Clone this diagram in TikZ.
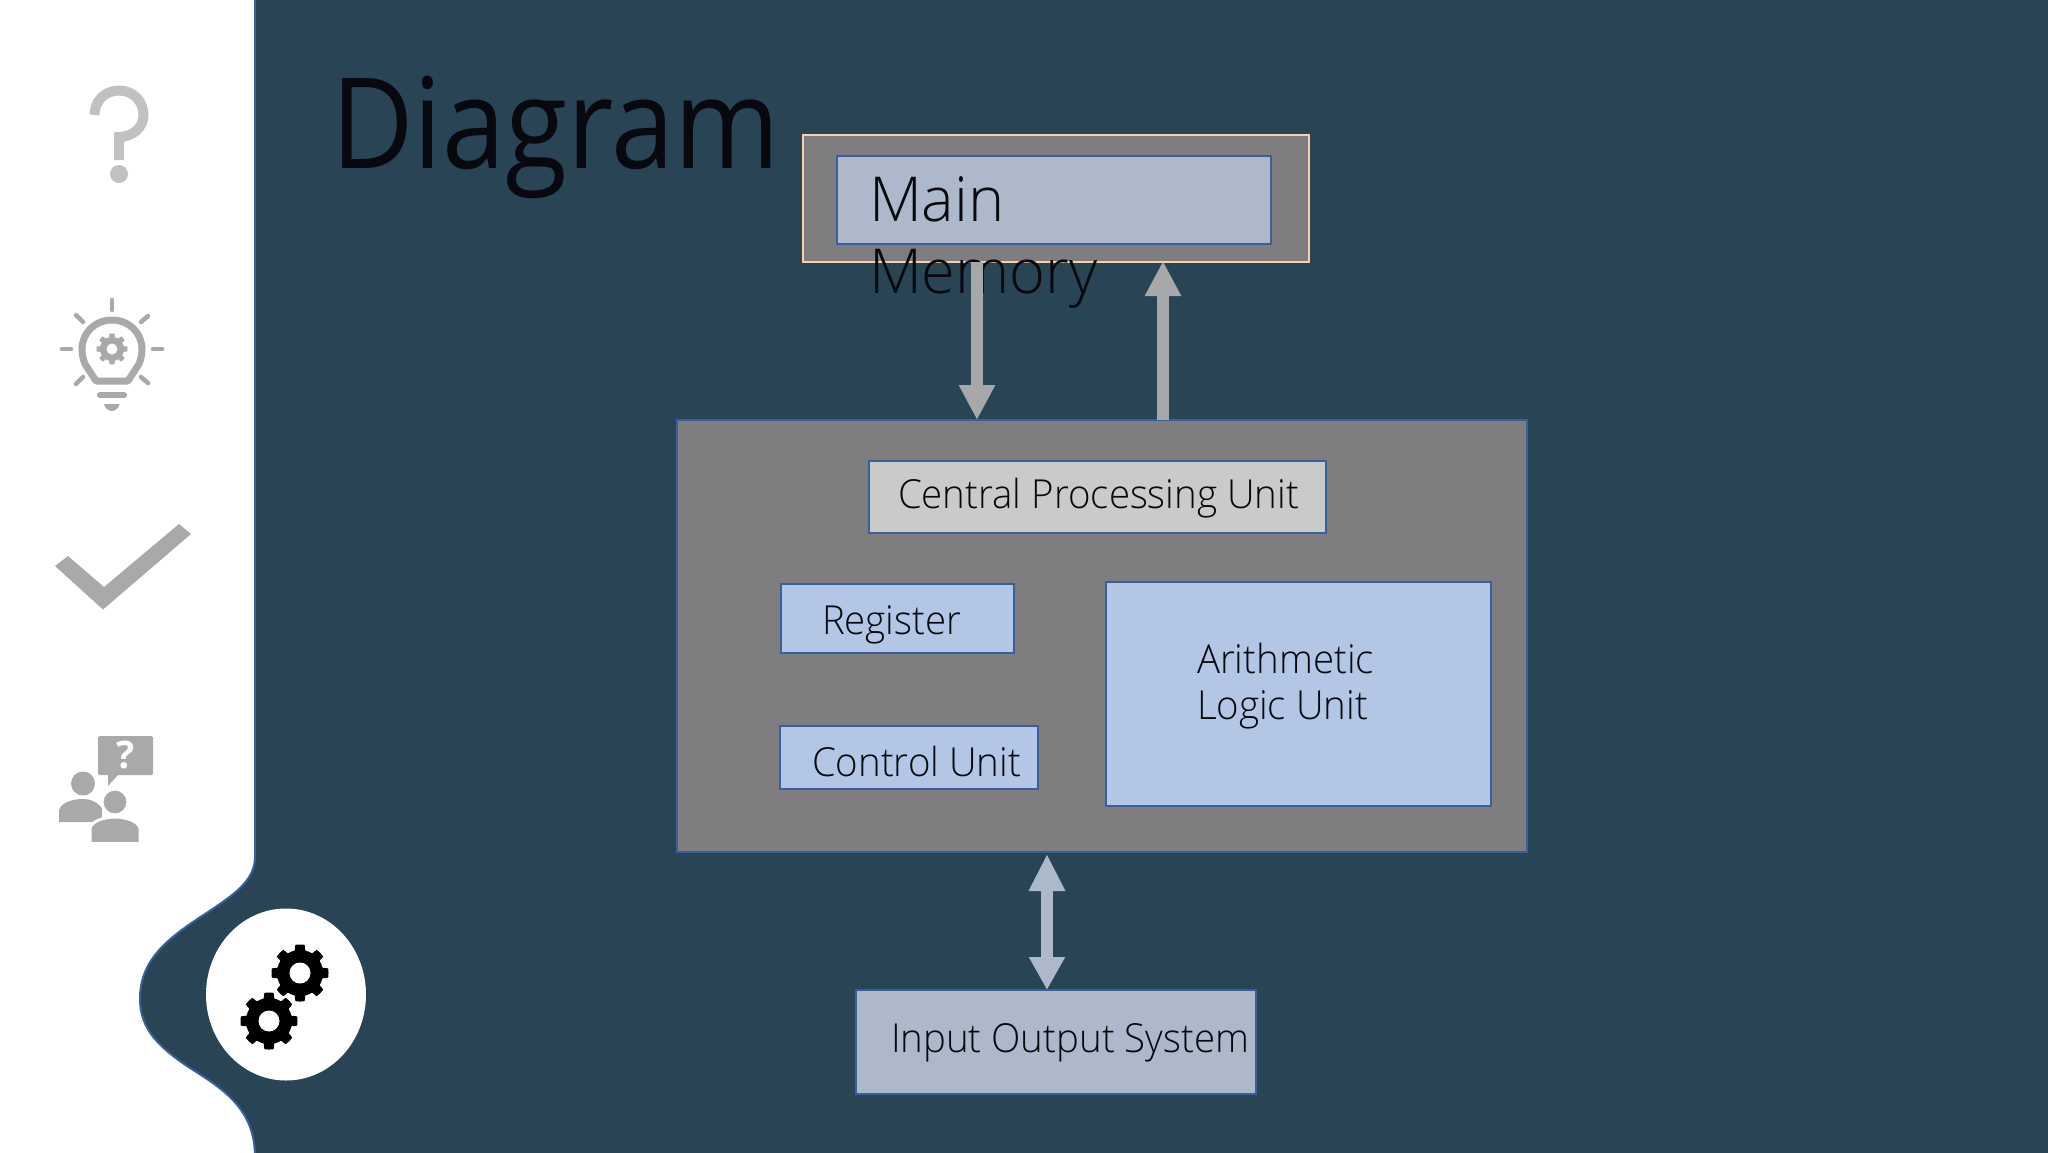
\documentclass[tikz,border=0pt]{standalone}
\usepackage{fontspec}
\setmainfont{Open Sans Light}
\newfontfamily\titlefont[FakeStretch=0.90]{Open Sans}
\newfontfamily\smallface[FakeStretch=0.96]{Open Sans Light}
\newfontfamily\bigface[FakeStretch=0.99]{Open Sans Light}
\newfontfamily\iconface{Open Sans}
\usetikzlibrary{arrows.meta}
\definecolor{bgc}{HTML}{284455}
\definecolor{boxgray}{HTML}{7F7D7F}
\definecolor{edgeblue}{HTML}{3A5F9A}
\definecolor{peach}{HTML}{F6D2A6}
\definecolor{paleblue}{HTML}{B3C6E6}
\definecolor{slateblue}{HTML}{ADB9CB}
\definecolor{lightgray}{HTML}{C9CACA}
\definecolor{icongray}{HTML}{A9A9A9}
\definecolor{qgray}{HTML}{C1C1C1}
\definecolor{arrowgray}{HTML}{A6A8A9}
\definecolor{inktext}{HTML}{08080F}
\tikzset{
  panel/.style={draw=edgeblue,line width=2pt,inner sep=0pt,outer sep=0pt,anchor=north west},
  txt/.style={anchor=base west,inner sep=0pt,outer sep=0pt,text=inktext},
  smalltxt/.style={txt,font=\smallface\fontsize{40}{46}\selectfont},
  bigtxt/.style={txt,font=\bigface\fontsize{62}{71}\selectfont},
  flow/.style={line width=12pt,draw=arrowgray,-{Triangle[width=34pt,length=35pt,color=arrowgray]}},
  ray/.style={line width=4.5pt,draw=icongray,line cap=round},
}
\newcommand{\mygear}[5]{%
  \fill[#5] plot[domain=0:360,samples=241,variable=\t]
    ({#1+(#4+(#3-#4)*max(0,min(1,2.2*cos(8*\t)+0.5)))*cos(\t)},
     {#2+(#4+(#3-#4)*max(0,min(1,2.2*cos(8*\t)+0.5)))*sin(\t)}) -- cycle;
}
\begin{document}
\begin{tikzpicture}[x=1pt,y=-1pt]
\useasboundingbox (0,0) rectangle (2048,1152);
\fill[bgc] (-5,-5) rectangle (2053,1157);
% sidebar
\fill[white,draw=edgeblue,line width=2pt] (-5,-5) -- (255,-5) -- (255,857)
  .. controls (255,885) and (225,900) .. (190,924)
  .. controls (160,945) and (140,965) .. (140,999)
  .. controls (140,1030) and (160,1048) .. (190,1068)
  .. controls (225,1090) and (255,1110) .. (255,1157) -- (-5,1157) -- cycle;
% question mark icon
\draw[qgray,line width=10pt] (94.5,115) .. controls (94.5,101) and (105,90.5) .. (119,90.5)
  .. controls (133,90.5) and (143.5,101) .. (143.5,115)
  .. controls (143.5,128) and (132,137) .. (119,137) -- (119,160);
\fill[qgray] (119,174) circle[radius=9pt];
% bulb icon
\draw[icongray,line width=7pt,line join=round] (96,381) -- (85,364) .. controls (83,359) and (82,354) .. (82,349)
  .. controls (82,333) and (95,320) .. (112,320) .. controls (129,320) and (142,333) .. (142,349)
  .. controls (142,354) and (141,359) .. (139,364) -- (128,381) -- cycle;
\draw[icongray,line width=6.5pt,line cap=round] (100,395) -- (124,395);
\fill[icongray] (104,404) -- (119.5,404) .. controls (119,408) and (115,411) .. (112,411) .. controls (108,411) and (105,408) .. (104,404) -- cycle;
\draw[ray] (112,300) -- (112,310);
\draw[ray] (62,349) -- (71,349);
\draw[ray] (153,349) -- (162,349);
\draw[ray] (76,315) -- (83,322);
\draw[ray] (148,316) -- (141,322);
\draw[ray] (76,384) -- (83,377);
\draw[ray] (148,383) -- (141,377);
\mygear{112}{349}{15.5}{12}{icongray}
\fill[white] (112,349) circle[radius=5.5pt];
% check icon
\fill[icongray] (55,566) -- (68,556) -- (104,587) -- (179,524) -- (191,534) -- (103,609.5) -- cycle;
% people icon
\fill[icongray,rounded corners=1.5pt] (98,736) rectangle (153,775);
\fill[icongray] (108,774) -- (119,774) -- (108,786) -- cycle;
\node[inner sep=0pt,text=white,font=\iconface\bfseries\fontsize{38}{38}\selectfont] (qm) at (126,755) {?};
\fill[icongray] (83,783.5) circle[radius=12pt];
\fill[icongray] (59,822) -- (59,811) .. controls (60,803) and (72,799) .. (83,799) .. controls (90,799) and (96,801) .. (102,808) -- (102,822) -- cycle;
\fill[icongray,draw=white,line width=3pt] (115,802) circle[radius=13pt];
\fill[icongray,draw=white,line width=3pt] (90,845) -- (90,828) .. controls (92,821) and (104,817) .. (115,817) .. controls (126,817) and (138,821) .. (140,828) -- (140,845) -- cycle;
\fill[white] (85,842) rectangle (145,850);
% selected circle with gears
\fill[white] (286,994.5) ellipse[x radius=80pt,y radius=86pt];
\mygear{300}{973}{28.5}{23}{black}
\fill[white] (300,973) circle[radius=10.5pt];
\mygear{269}{1021}{28.5}{23}{black}
\fill[white] (269,1021) circle[radius=10.5pt];
% title
\node[txt,font=\titlefont\fontsize{126}{126}\selectfont] (title) at (331,168) {Diagram};
% boxes
\node[panel,draw=peach,fill=boxgray,minimum width=506pt,minimum height=127pt] (mem) at (802.5,135) {};
\node[panel,fill=slateblue,minimum width=434pt,minimum height=88pt] (memin) at (837,156) {};
\node[bigtxt] (t1) at (869,221) {Main};
\node[bigtxt] (t2) at (869,293) {Memory};
\node[panel,fill=boxgray,minimum width=850pt,minimum height=432pt] (cpu) at (677,420) {};
\node[panel,fill=lightgray,minimum width=457pt,minimum height=72pt] (cpulabel) at (869,461) {};
\node[smalltxt] (t3) at (898,508) {Central Processing Unit};
\node[panel,fill=paleblue,minimum width=233pt,minimum height=69pt] (reg) at (781,584) {};
\node[smalltxt] (t4) at (822,634) {Register};
\node[panel,fill=paleblue,minimum width=258pt,minimum height=63pt] (cu) at (780,726) {};
\node[smalltxt] (t5) at (812,776) {Control Unit};
\node[panel,fill=paleblue,minimum width=385pt,minimum height=224pt] (alu) at (1106,582) {};
\node[smalltxt] (t6) at (1197,673) {Arithmetic};
\node[smalltxt] (t7) at (1197,719) {Logic Unit};
\node[panel,fill=slateblue,minimum width=400pt,minimum height=104pt] (io) at (856,990) {};
\node[smalltxt] (t8) at (891,1052) {Input Output System};
% connectors
\coordinate (xa) at (977,0);
\coordinate (xb) at (1163,0);
\coordinate (xc) at (1047,0);
\draw[flow] (mem.south -| xa) -- (cpu.north -| xa);
\draw[flow] (cpu.north -| xb) -- ([yshift=1pt]mem.south -| xb);
\draw[line width=12pt,draw=slateblue,{Triangle[width=34pt,length=37pt,color=slateblue]}-{Triangle[width=34pt,length=33pt,color=slateblue]}] ([yshift=-2pt]cpu.south -| xc) -- (io.north -| xc);
\end{tikzpicture}
\end{document}
